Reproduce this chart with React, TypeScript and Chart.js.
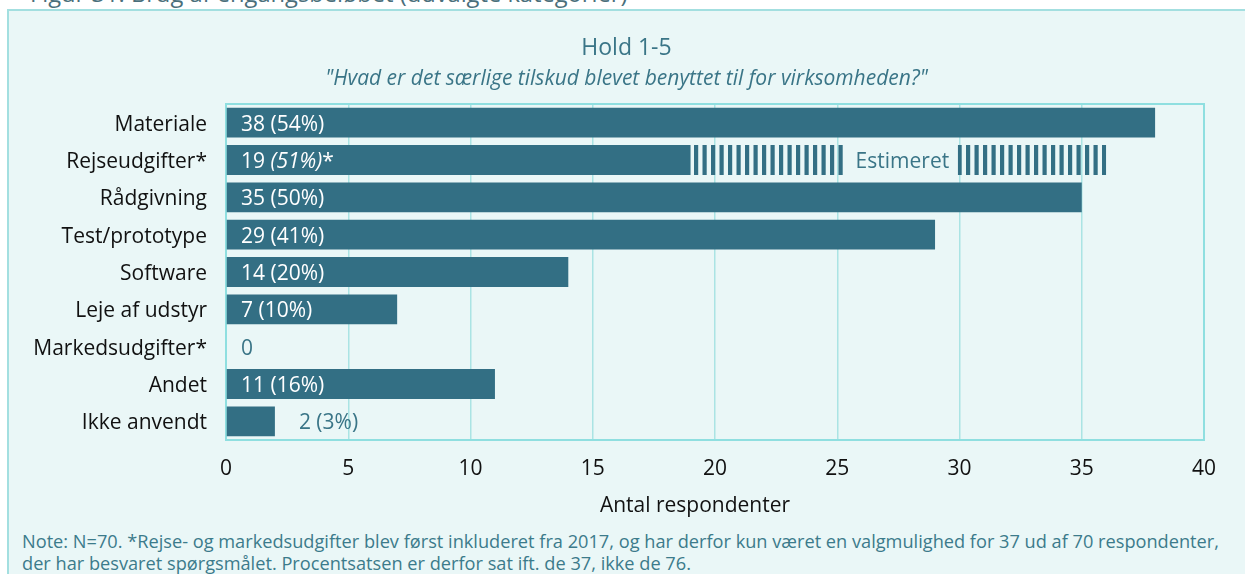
import React, { useEffect, useRef } from "react";
import { Chart, registerables } from "chart.js";

Chart.register(...registerables);

const categories = [
  "Materiale",
  "Rejseudgifter*",
  "Rådgivning",
  "Test/prototype",
  "Software",
  "Leje af udstyr",
  "Markedsudgifter*",
  "Andet",
  "Ikke anvendt",
];
const counts = [38, 19, 35, 29, 14, 7, 0, 11, 2];
const percents: (number | null)[] = [54, 51, 50, 41, 20, 10, null, 16, 3];
const estimatedPercent = [false, true, false, false, false, false, false, false, false];
const estimatedRange: ([number, number] | null)[] = [null, [19, 36], null, null, null, null, null, null, null];
const xTicks = [0, 5, 10, 15, 20, 25, 30, 35, 40];

const figureCaption = "Figur 31: Brug af engangsbeløbet (udvalgte kategorier)";
const chartTitle = "Hold 1-5";
const chartSubtitle = "\"Hvad er det særlige tilskud blevet benyttet til for virksomheden?\"";
const xAxisTitle = "Antal respondenter";
const estimateLabel = "Estimeret";
const noteLines = [
  "Note: N=70. *Rejse- og markedsudgifter blev først inkluderet fra 2017, og har derfor kun været en valgmulighed for 37 ud af 70 respondenter,",
  "der har besvaret spørgsmålet. Procentsatsen er derfor sat ift. de 37, ikke de 76.",
];

const BAR = "#336f84";
const TEAL = "#3a7587";
const PANEL_BG = "#eaf7f7";
const GRID = "#aae4e4";
const FRAME = "#8fdfe0";
const FONT = "'Open Sans', 'Noto Sans', sans-serif";
const FS = 21;

function makeStripePattern(ctx: CanvasRenderingContext2D) {
  const c = document.createElement("canvas");
  c.width = 17;
  c.height = 4;
  const g = c.getContext("2d")!;
  g.fillStyle = BAR;
  g.fillRect(6, 0, 4.2, 4);
  g.fillRect(14.5, 0, 2.5, 4);
  g.fillRect(0, 0, 1.7, 4);
  return ctx.createPattern(c, "repeat");
}

const framePlugin = {
  id: "frame",
  beforeDatasetsDraw(chart: any) {
    const { ctx, chartArea } = chart;
    ctx.save();
    ctx.strokeStyle = FRAME;
    ctx.lineWidth = 2;
    ctx.strokeRect(chartArea.left, chartArea.top, chartArea.right - chartArea.left, chartArea.bottom - chartArea.top);
    ctx.restore();
  },
};

const axisTitlePlugin = {
  id: "axisTitle",
  afterDraw(chart: any) {
    const ctx: CanvasRenderingContext2D = chart.ctx;
    const xs = chart.scales.x;
    ctx.save();
    ctx.font = `${FS}px ${FONT}`;
    ctx.fillStyle = "#111111";
    ctx.textAlign = "center";
    ctx.textBaseline = "middle";
    ctx.fillText(xAxisTitle, (xs.left + xs.right) / 2 - 20, xs.bottom - FS * 0.6 + 0.5);
    ctx.restore();
  },
};

const labelPlugin = {
  id: "barLabels",
  afterDatasetsDraw(chart: any) {
    const ctx: CanvasRenderingContext2D = chart.ctx;
    const meta = chart.getDatasetMeta(0);
    const xs = chart.scales.x;
    const base = xs.getPixelForValue(0);
    ctx.save();
    ctx.textBaseline = "middle";
    ctx.textAlign = "left";
    const normal = `${FS}px ${FONT}`;
    const italic = `italic ${FS}px ${FONT}`;
    meta.data.forEach((bar: any, i: number) => {
      const v = counts[i];
      const p = percents[i];
      const y = bar.y;
      const parts: { t: string; f: string }[] = [];
      if (p === null) {
        parts.push({ t: String(v), f: normal });
      } else if (estimatedPercent[i]) {
        parts.push({ t: `${v} `, f: normal });
        parts.push({ t: `(${p}%)`, f: italic });
        parts.push({ t: "*", f: normal });
      } else {
        parts.push({ t: `${v} (${p}%)`, f: normal });
      }
      let total = 0;
      parts.forEach((pt) => {
        ctx.font = pt.f;
        total += ctx.measureText(pt.t).width;
      });
      const end = bar.x;
      let x: number;
      let color: string;
      if (v === 0) {
        x = base + 15;
        color = TEAL;
      } else if (end - base < total + 30) {
        x = end + 24;
        color = TEAL;
      } else {
        x = base + 15;
        color = "#ffffff";
      }
      ctx.fillStyle = color;
      parts.forEach((pt) => {
        ctx.font = pt.f;
        ctx.fillText(pt.t, x, y + 2);
        x += ctx.measureText(pt.t).width;
      });
    });

    const meta1 = chart.getDatasetMeta(1);
    meta1.data.forEach((bar: any, i: number) => {
      const r = estimatedRange[i];
      if (!r) return;
      const cx = (bar.x + bar.base) / 2 + 4;
      const h = bar.height;
      ctx.fillStyle = PANEL_BG;
      ctx.fillRect(cx - 55.5, bar.y - h / 2 - 1, 111, h + 2);
      ctx.font = normal;
      ctx.textAlign = "center";
      ctx.fillStyle = TEAL;
      ctx.fillText(estimateLabel, cx, bar.y + 2);
    });
    ctx.restore();
  },
};

function BarChart() {
  const ref = useRef<HTMLCanvasElement | null>(null);
  useEffect(() => {
    const canvas = ref.current!;
    const ctx = canvas.getContext("2d")!;
    const pattern = makeStripePattern(ctx);
    const chart = new Chart(canvas, {
      type: "bar",
      data: {
        labels: categories,
        datasets: [
          {
            data: counts,
            backgroundColor: BAR,
            barPercentage: 0.8,
            categoryPercentage: 1,
            grouped: false,
          } as any,
          {
            data: estimatedRange as any,
            backgroundColor: pattern as any,
            barPercentage: 0.8,
            categoryPercentage: 1,
            grouped: false,
          } as any,
        ],
      },
      options: {
        indexAxis: "y",
        animation: false,
        responsive: false,
        maintainAspectRatio: false,
        layout: { padding: { left: 0, right: 0, top: 0, bottom: 0 } },
        plugins: {
          legend: { display: false },
          tooltip: { enabled: false },
          title: {
            display: true,
            text: chartTitle,
            color: TEAL,
            font: { family: FONT, size: 23, weight: "normal" },
            padding: { top: 24, bottom: 1 },
          },
          subtitle: {
            display: true,
            text: chartSubtitle,
            color: TEAL,
            font: { family: FONT, size: 21, style: "italic", weight: "normal" },
            padding: { top: 2.4, bottom: 12.8 },
          },
        },
        scales: {
          x: {
            min: 0,
            max: 40,
            afterBuildTicks: (scale: any) => {
              scale.ticks = xTicks.map((v) => ({ value: v }));
            },
            afterFit: (scale: any) => {
              scale.paddingRight = 41;
              scale.height = 78;
            },
            grid: { color: GRID, lineWidth: 1.5, drawTicks: false },
            border: { display: false },
            ticks: {
              color: "#111111",
              padding: 16.5,
              font: { family: FONT, size: FS },
            },
            title: { display: false },
          },
          y: {
            afterFit: (scale: any) => {
              scale.width = 218;
            },
            grid: { display: false, drawTicks: false },
            border: { display: false },
            ticks: {
              color: "#111111",
              padding: 19,
              labelOffset: 2,
              font: { family: FONT, size: FS },
            },
          },
        },
      },
      plugins: [framePlugin, labelPlugin, axisTitlePlugin],
    });
    return () => chart.destroy();
  }, []);
  return (
    <canvas
      ref={ref}
      width={1237}
      height={507}
      style={{ position: "absolute", left: 8, top: 11, width: 1237, height: 507 }}
    />
  );
}

export default function App() {
  return (
    <div
      style={{
        position: "fixed",
        left: 0,
        top: 0,
        width: 1245,
        height: 574,
        overflow: "hidden",
        background: "#ffffff",
        fontFamily: FONT,
      }}
    >
      <div
        style={{
          position: "absolute",
          left: 30,
          top: -20,
          fontSize: 23.7,
          lineHeight: "26px",
          color: "#4a6f7b",
          whiteSpace: "nowrap",
        }}
      >
        {figureCaption}
      </div>
      <div
        style={{
          position: "absolute",
          left: 7,
          top: 9,
          width: 1260,
          height: 600,
          background: PANEL_BG,
          border: "2px solid #a3dfe0",
          boxSizing: "border-box",
        }}
      />
      <BarChart />
      <div
        style={{
          position: "absolute",
          left: 22,
          top: 530,
          fontSize: 18.2,
          lineHeight: "22px",
          color: "#3c7b8b",
          whiteSpace: "nowrap",
        }}
      >
        {noteLines.map((l, i) => (
          <div key={i}>{l}</div>
        ))}
      </div>
    </div>
  );
}
